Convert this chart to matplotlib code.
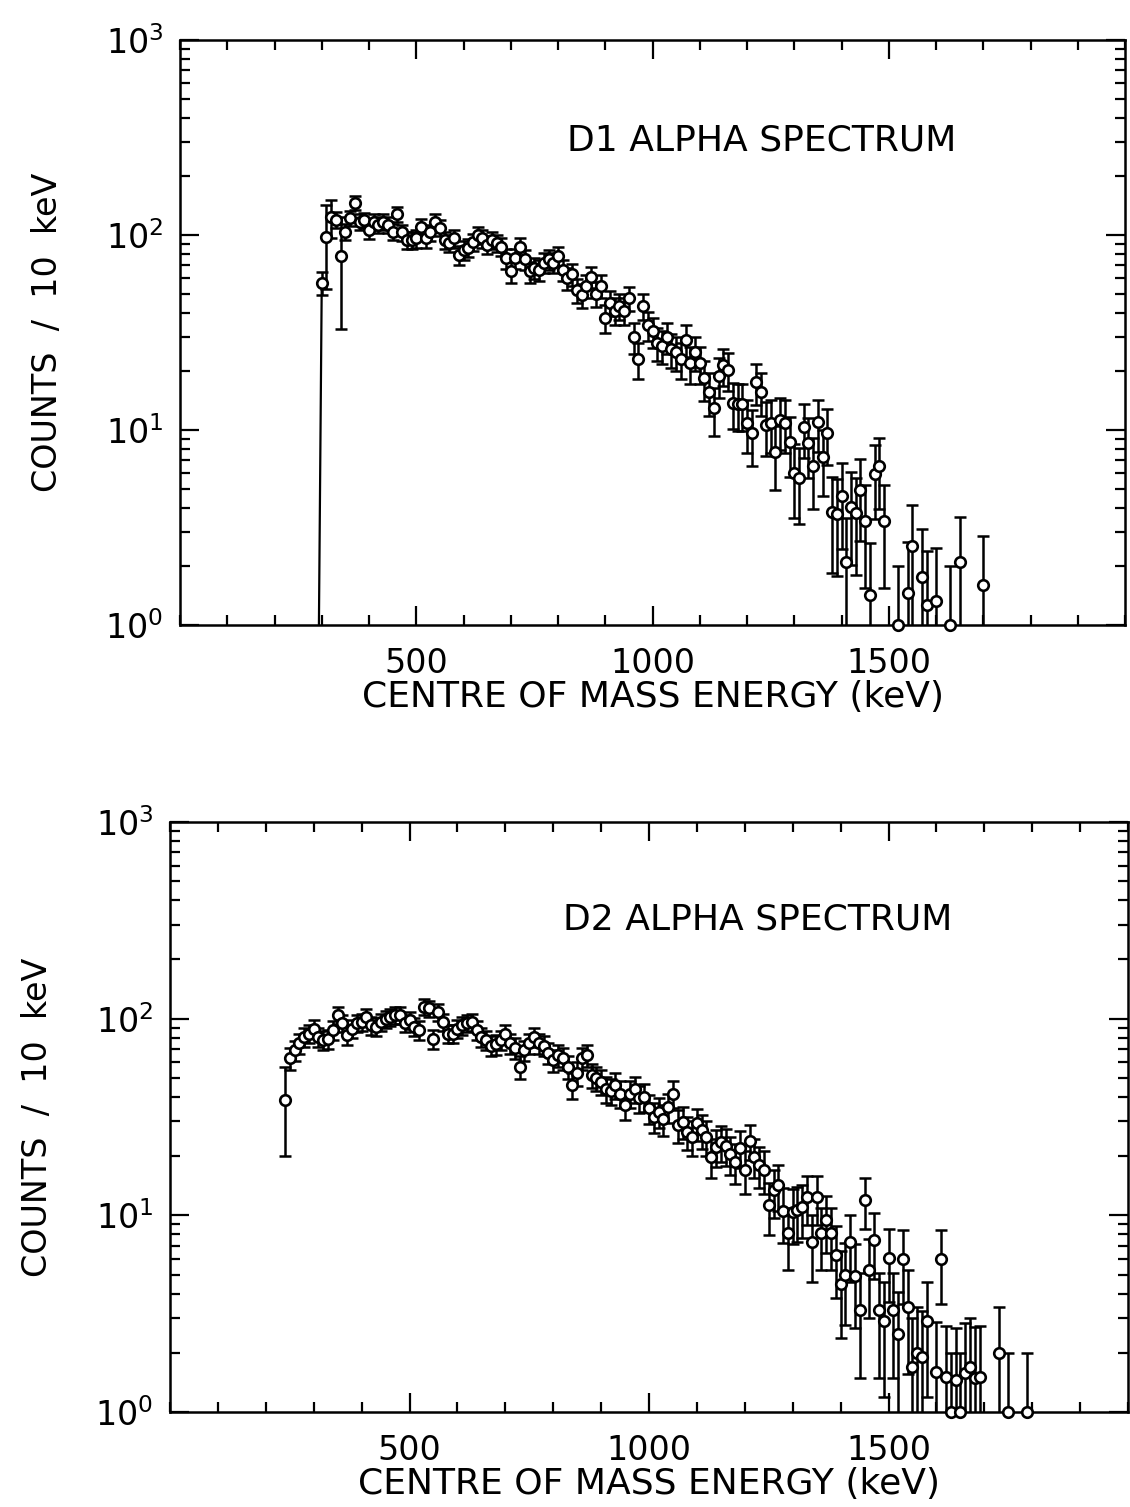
import numpy as np
import matplotlib
matplotlib.use("Agg")
import matplotlib.pyplot as plt
from matplotlib.ticker import MultipleLocator, FixedLocator, FuncFormatter, NullFormatter

plt.rcParams['font.family'] = ['DejaVu Sans']
plt.rcParams['mathtext.fontset'] = 'dejavusans'

# ---------------- D1 spectrum (counts per 10 keV bin) ----------------
d1_energy = list(range(300, 1500, 10)) + [1520, 1540, 1550, 1570, 1580, 1600, 1630, 1650, 1700]
d1_counts = [
    57, 98, 124, 120, 78, 104, 122, 146, 117, 119,
    106, 117, 113, 117, 113, 104, 128, 103, 94, 94,
    96, 110, 96, 103, 117, 109, 94, 91, 96, 79,
    84, 86, 92, 100, 96, 89, 94, 91, 87, 76,
    65, 76, 87, 75, 65, 68, 66, 72, 75, 72,
    78, 66, 60, 63, 52, 49, 55, 61, 50, 55,
    37.5, 45, 41, 43, 41, 47.5, 30, 23, 43, 34.5,
    32, 28, 27, 30, 26, 25, 23, 29, 22, 25,
    22, 18.4, 15.7, 12.9, 19, 21.5, 20.4, 13.8, 13.6, 13.6,
    10.9, 9.6, 17.7, 15.7, 10.6, 10.9, 7.7, 11.3, 10.9, 8.7,
    6.0, 5.7, 10.4, 8.6, 6.5, 11, 7.3, 9.7, 3.8, 3.7,
    4.6, 2.1, 4.05, 3.75, 4.9, 3.4, 1.43, 5.95, 6.5, 3.4,
    1, 1.46, 2.54, 1.77, 1.27, 1.32, 1, 2.11, 1.6,
]
# bins near threshold carry enlarged uncertainties
d1_err_override = {310: 45, 320: 28, 340: 45}

# ---------------- D2 spectrum (counts per 10 keV bin) ----------------
d2_energy = list(range(240, 1480, 10)) + [1480, 1490, 1500, 1510, 1520, 1530, 1540, 1550,
                                           1560, 1570, 1580, 1600, 1610, 1620, 1630, 1640,
                                           1650, 1660, 1670, 1680, 1690, 1730, 1750, 1790]
d2_counts = [
    38.6, 63, 69, 75, 81, 84, 89, 81, 78, 79,
    87.5, 104, 95, 82.6, 89, 95, 96, 102, 92.6, 90.7,
    96, 100, 102, 104, 104, 95, 98, 90.7, 87.5, 115,
    113, 79, 108, 96, 84, 84, 89, 92.6, 95, 96,
    87.5, 81, 78, 73, 74, 78, 84, 75, 71, 57,
    69, 75, 81, 75, 73, 67, 61.6, 65, 63, 57,
    46, 52.7, 63, 65, 51.6, 49.7, 47.7, 44, 43, 46,
    41.5, 36.4, 41.5, 44, 39.3, 40, 35, 31.7, 33.5, 31,
    35.6, 41.5, 28.8, 29.9, 26.6, 25, 29.4, 27, 25, 19.9,
    22.3, 23.6, 22.6, 20.6, 18.7, 22, 17, 24, 19.9, 18,
    17, 11.3, 13.4, 14.3, 10.5, 8.1, 10.4, 10.6, 11.0, 12.4,
    7.3, 12.4, 8.1, 9.5, 8.1, 6.3, 4.5, 5.0, 7.3, 4.9,
    3.3, 12, 5.3, 7.5,
    3.3, 2.9, 6.1, 3.3, 2.5, 6.0, 3.4, 1.7,
    2.0, 1.9, 2.9, 1.6, 6.0, 1.5, 1.0, 1.46,
    1.0, 1.58, 1.7, 1.49, 1.5, 1.99, 1.0, 1.0,
]
d2_err_override = {240: 18.5}

panels = [
    dict(energy=d1_energy, counts=d1_counts, override=d1_err_override,
         title="D1 ALPHA SPECTRUM", title_xy=(0.616, 0.829), threshold_line=True,
         rect=[180 / 1130, 1 - 625 / 1507, 945 / 1130, 585 / 1507]),
    dict(energy=d2_energy, counts=d2_counts, override=d2_err_override,
         title="D2 ALPHA SPECTRUM", title_xy=(0.613, 0.834), threshold_line=False,
         rect=[170 / 1130, 1 - 1412 / 1507, 958 / 1130, 590 / 1507]),
]

fig = plt.figure(figsize=(11.30, 15.07), dpi=100)

for p in panels:
    e = np.asarray(p['energy'], dtype=float)
    c = np.asarray(p['counts'], dtype=float)
    err = np.sqrt(c)
    for en, val in p['override'].items():
        err[e == en] = val
    lower = np.minimum(err, c - 1e-3)

    ax = fig.add_axes(p['rect'])
    ax.set_yscale('log')
    ax.set_xlim(0, 2000)
    ax.set_ylim(1, 1000)

    ax.errorbar(e, c, yerr=[lower, err], fmt='none', ecolor='black',
                elinewidth=1.8, capsize=4.6, capthick=1.8, zorder=3)
    ax.plot(e, c, 'o', ms=7.6, mfc='white', mec='black', mew=1.9, zorder=4,
            clip_on=False)
    if p['threshold_line']:
        # rising edge of the spectrum at the detection threshold
        ax.plot([e[0] - 6, e[0]], [1, c[0]], color='black', lw=1.6, zorder=2)

    ax.text(*p['title_xy'], p['title'], transform=ax.transAxes, ha='center',
            va='center', fontsize=26)

    for s in ax.spines.values():
        s.set_linewidth(1.8)

    ax.xaxis.set_major_locator(FixedLocator([500, 1000, 1500]))
    ax.xaxis.set_minor_locator(MultipleLocator(100))
    ax.yaxis.set_major_locator(FixedLocator([1, 10, 100, 1000]))
    ax.yaxis.set_minor_locator(FixedLocator(
        [m * 10 ** k for k in range(0, 3) for m in range(2, 10)]))
    ax.yaxis.set_major_formatter(FuncFormatter(lambda v, pos: r'$10^{%d}$' % round(np.log10(v))))
    ax.yaxis.set_minor_formatter(NullFormatter())

    ax.tick_params(which='both', direction='in', top=True, right=True, width=1.6,
                   labelsize=24)
    ax.tick_params(which='major', length=14)
    ax.tick_params(which='minor', length=7)
    ax.tick_params(axis='x', which='major', pad=16)
    ax.tick_params(axis='y', which='major', pad=12)

    ax.set_xlabel('CENTRE OF MASS ENERGY (keV)', fontsize=26, labelpad=0)
    ax.set_ylabel('COUNTS  /  10  keV', fontsize=24, labelpad=30)

fig.savefig('out.png', dpi=100)
